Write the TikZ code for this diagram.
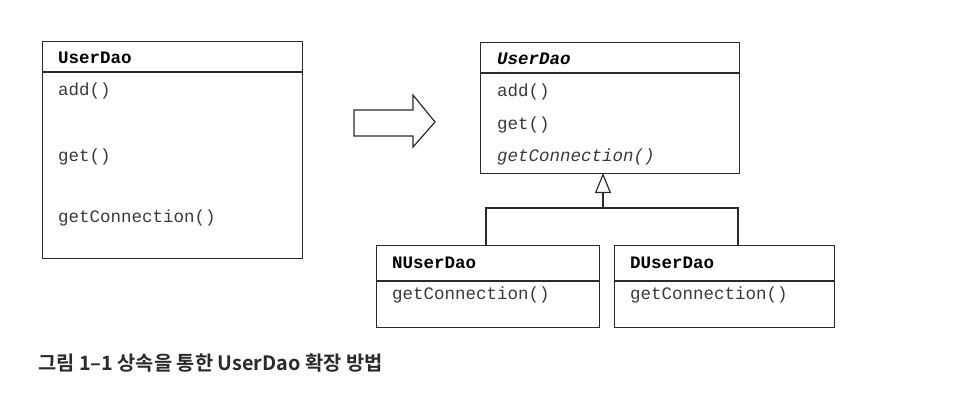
\documentclass[tikz,border=0pt]{standalone}
\usepackage{fontspec}
\setmonofont{Liberation Mono}
\newfontfamily\krfont{Noto Sans CJK KR Bold}
\usetikzlibrary{arrows.meta}
\definecolor{ink}{HTML}{2A2A2A}
\definecolor{txt}{HTML}{3A3A3A}
\tikzset{
  umlbox/.style={draw=ink, line width=1.2pt, anchor=north west, inner sep=0pt},
  sep/.style={draw=ink, line width=1.2pt},
  mono/.style={anchor=west, inner sep=0pt, text=txt, font=\ttfamily\fontsize{17.5}{17.5}\selectfont},
  monob/.style={mono, text=black, font=\ttfamily\bfseries\fontsize{17.5}{17.5}\selectfont},
  link/.style={draw=ink, line width=1.2pt},
}
\begin{document}
\begin{tikzpicture}[x=1pt,y=-1pt]
\useasboundingbox (0,0) rectangle (960,400);
% left box
\node[umlbox, minimum width=260pt, minimum height=217pt] (L) at (42,41) {};
\draw[sep] (42,72) -- (302,72);
\node[monob] (Lt) at (58,58) {UserDao};
\node[mono] (La) at (58,91) {add()};
\node[mono] (Lg) at (58,157) {get()};
\node[mono] (Lc) at (58,218) {getConnection()};
% block arrow
\draw[draw=ink, line width=1.2pt, fill=white] (354,110) -- (413,110) -- (413,95) -- (435,122) -- (413,147) -- (413,136) -- (354,136) -- cycle;
% super box
\node[umlbox, minimum width=259pt, minimum height=131pt] (S) at (480,42) {};
\draw[sep] (480,73) -- (739,73);
\node[monob, font=\ttfamily\bfseries\itshape\fontsize{17.5}{17.5}\selectfont] (St) at (497,59) {UserDao};
\node[mono] (Sa) at (497,92) {add()};
\node[mono] (Sg) at (497,125) {get()};
\node[mono, font=\ttfamily\itshape\fontsize{17.5}{17.5}\selectfont] (Sc) at (497,157) {getConnection()};
% subclasses
\node[umlbox, minimum width=223pt, minimum height=82pt] (N) at (376,245) {};
\draw[sep] (376,281) -- (599,281);
\node[monob] (Nt) at (392,263) {NUserDao};
\node[mono] (Nc) at (392,295) {getConnection()};
\node[umlbox, minimum width=220pt, minimum height=82pt] (D) at (614,245) {};
\draw[sep] (614,281) -- (834,281);
\node[monob] (Dt) at (630,263) {DUserDao};
\node[mono] (Dc) at (630,295) {getConnection()};
% inheritance
\coordinate (tip) at (603,173);
\coordinate (join) at (603,208);
\coordinate (nj) at (486,245);
\coordinate (dj) at (738,245);
\draw[link] (nj) |- (join) -| (dj);
\draw[link, -{Triangle[open, width=16pt, length=20pt, line width=1.2pt]}] (join) -- (tip);
% caption
\node[anchor=west, inner sep=0pt, text=ink, font=\krfont\fontsize{19.8}{19.8}\selectfont] (cap) at (38,363) {그림 1–1 상속을 통한 UserDao 확장 방법};
\end{tikzpicture}
\end{document}
